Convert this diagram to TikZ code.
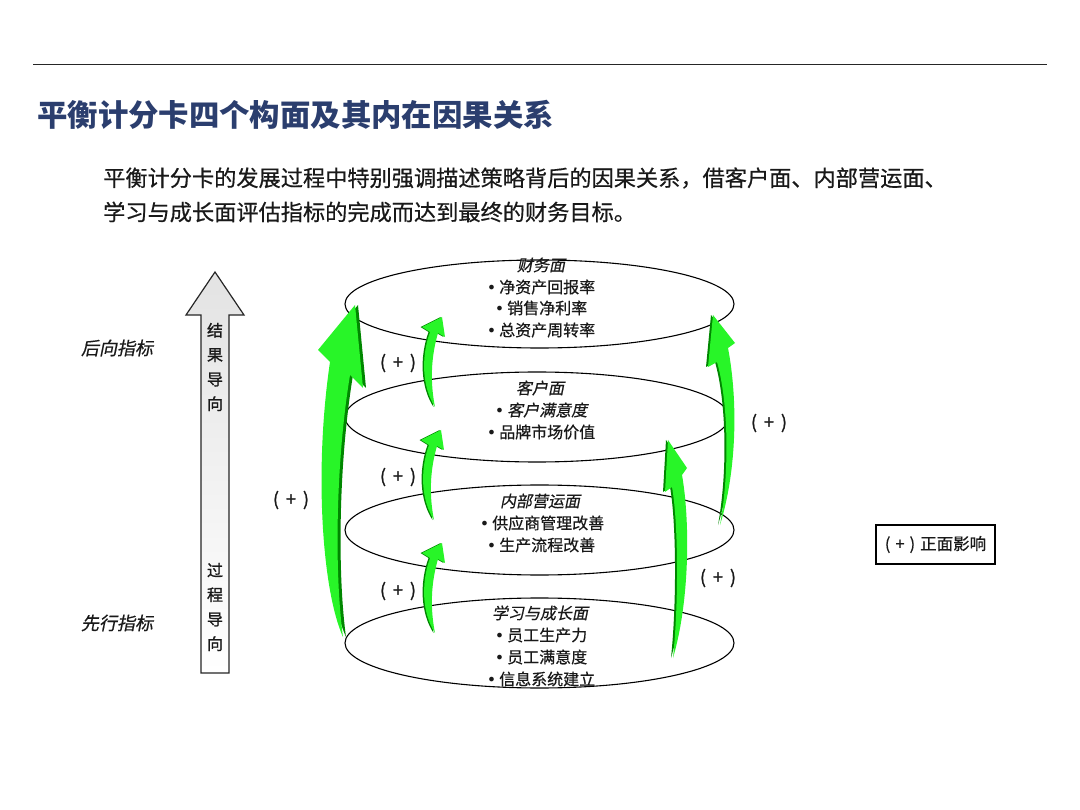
\documentclass[tikz,border=0pt]{standalone}
\usepackage{fontspec}
\setmainfont{Noto Sans CJK SC}
\newfontfamily\cjkit[FakeSlant=0.2,FakeBold=0.5]{Noto Sans CJK SC}
\newfontfamily\med[FakeBold=0.5]{Noto Sans CJK SC}
\newfontfamily\medb[FakeBold=1.2]{Noto Sans CJK SC}
\newfontfamily\dv{DejaVu Sans}
\newcommand\bul{{\dv •}\hspace{3pt}}
\usetikzlibrary{shapes.geometric}
\definecolor{titleblue}{RGB}{43,62,110}
\definecolor{txt}{RGB}{25,25,25}
\definecolor{gbright}{RGB}{40,245,40}
\definecolor{gdark}{RGB}{0,135,0}
\tikzset{
  layer/.style={ellipse, draw=black, line width=1.1pt, minimum width=389pt, minimum height=88pt, inner sep=0pt},
  itm/.style={inner sep=0pt, text=txt, font=\fontsize{16}{18}\selectfont\med},
  itmit/.style={inner sep=0pt, text=txt, font=\fontsize{16}{18}\selectfont\cjkit},
  plus/.style={inner sep=0pt, text=txt, font=\fontsize{18}{20}\selectfont\medb},
  side/.style={inner sep=0pt, text=txt, font=\fontsize{18}{20}\selectfont\cjkit},
  vtext/.style={inner sep=0pt, text=txt, align=center, font=\fontsize{16}{24.5}\selectfont\medb},
  smallarrow/.pic={
    \begin{scope}[xshift=-1.5pt]
      \fill[gdark] (-7,90) .. controls (-20,70) and (-21,40) .. (-12,15) -- (-20,10) -- (0,0) -- (3,20) -- (-4,16) .. controls (-11,40) and (-12,65) .. (-7,90) -- cycle;
    \end{scope}
    \fill[gbright] (-7,90) .. controls (-20,70) and (-21,40) .. (-12,15) -- (-20,10) -- (0,0) -- (3,20) -- (-4,16) .. controls (-11,40) and (-12,65) .. (-7,90) -- cycle;
  }
}
\newcommand\pl{(\kern7pt+\kern7pt)}
\begin{document}
\begin{tikzpicture}[x=1pt,y=-1pt]
\useasboundingbox (0,0) rectangle (1080,810);
\fill[white] (0,0) rectangle (1080,810);

% top rule
\coordinate (ruleL) at (33,65);
\coordinate (ruleR) at (1047,65);
\draw[line width=1pt, black!85] (ruleL) -- (ruleR);

% title and intro
\node[anchor=west, inner sep=0pt, text=titleblue, font=\fontsize{30.4}{34}\selectfont\bfseries] (title) at (37,115) {平衡计分卡四个构面及其内在因果关系};
\node[anchor=west, inner sep=0pt, text=txt, font=\fontsize{22.2}{26}\selectfont\med] (p1) at (103,178) {平衡计分卡的发展过程中特别强调描述策略背后的因果关系，借客户面、内部营运面、};
\node[anchor=west, inner sep=0pt, text=txt, font=\fontsize{22.2}{26}\selectfont\med] (p2) at (103,212) {学习与成长面评估指标的完成而达到最终的财务目标。};

% side labels
\node[side] (lag) at (117,348) {后向指标};
\node[side] (lead) at (117,623) {先行指标};

% big grey arrow
\draw[line width=1.2pt, black!85, top color=gray!22, bottom color=white]
  (201,673) -- (201,315) -- (186,315) -- (215,272) -- (244,315) -- (229,315) -- (229,673) -- cycle;
\node[vtext] (res) at (215,367) {结\\果\\导\\向};
\node[vtext] (proc) at (215,607) {过\\程\\导\\向};

% four layers
\node[layer] (fin) at (539.5,304) {};
\node[layer, minimum width=384pt, minimum height=90pt] (cus) at (537,417) {};
\node[layer, minimum height=90pt] (int) at (539.5,530) {};
\node[layer, minimum height=90pt] (lrn) at (539.5,643) {};

% big left arrow (learning -> finance)
\begin{scope}[xshift=3pt]
\fill[gdark] (343,637) .. controls (322,590) and (314,470) .. (330,362) -- (318,350) -- (355,305) -- (363,388) -- (350,375) .. controls (336,460) and (334,570) .. (343,637) -- cycle;
\end{scope}
\fill[gbright] (343,637) .. controls (322,590) and (314,470) .. (330,362) -- (318,350) -- (355,305) -- (363,388) -- (350,375) .. controls (336,460) and (334,570) .. (343,637) -- cycle;

% small left arrows
\pic at (442,543) {smallarrow};
\pic at (441,430) {smallarrow};
\pic at (442,317) {smallarrow};

% right arrow: learning -> customer
\begin{scope}[xshift=-2pt]
\fill[gdark] (673,658) .. controls (679,600) and (678,520) .. (672,487) -- (665,492) -- (668,440) -- (687,468) -- (682,475) .. controls (690,520) and (690,600) .. (673,658) -- cycle;
\end{scope}
\fill[gbright] (673,658) .. controls (679,600) and (678,520) .. (672,487) -- (665,492) -- (668,440) -- (687,468) -- (682,475) .. controls (690,520) and (690,600) .. (673,658) -- cycle;

% right arrow: internal -> finance
\begin{scope}[xshift=-2pt]
\fill[gdark] (720,525) .. controls (730,470) and (728,400) .. (717,362) -- (708,367) -- (713,315) -- (735,343) -- (728,348) .. controls (738,400) and (737,470) .. (720,525) -- cycle;
\end{scope}
\fill[gbright] (720,525) .. controls (730,470) and (728,400) .. (717,362) -- (708,367) -- (713,315) -- (735,343) -- (728,348) .. controls (738,400) and (737,470) .. (720,525) -- cycle;

% layer texts
\node[itmit] (finT) at (541,265) {财务面};
\node[itm] (fin1) at (541,287) {\bul 净资产回报率};
\node[itm] (fin2) at (541,308) {\bul 销售净利率};
\node[itm] (fin3) at (541,330) {\bul 总资产周转率};

\node[itmit] (cusT) at (540,388) {客户面};
\node[itmit] (cus1) at (541,410) {\bul 客户满意度};
\node[itm] (cus2) at (541,432) {\bul 品牌市场价值};

\node[itmit] (intT) at (540,501) {内部营运面};
\node[itm] (int1) at (542,523) {\bul 供应商管理改善};
\node[itm] (int2) at (541,545) {\bul 生产流程改善};

\node[itmit] (lrnT) at (540,613) {学习与成长面};
\node[itm] (lrn1) at (541,635) {\bul 员工生产力};
\node[itm] (lrn2) at (541,657) {\bul 员工满意度};
\node[itm] (lrn3) at (541,679) {\bul 信息系统建立};

% (+) labels
\node[plus] (pl1) at (398,363) {\pl};
\node[plus] (pl2) at (398,477) {\pl};
\node[plus] (pl3) at (398,591) {\pl};
\node[plus] (pl4) at (291,500) {\pl};
\node[plus] (pl5) at (769,423) {\pl};
\node[plus] (pl6) at (718,578) {\pl};

% legend
\node[draw=black, line width=1.2pt, minimum width=119pt, minimum height=39pt, inner sep=0pt, text=txt, font=\fontsize{16.5}{18}\selectfont\med] (legend) at (935.5,544.5) {(\kern5pt+\kern5pt)\kern5pt正面影响};
\end{tikzpicture}
\end{document}
